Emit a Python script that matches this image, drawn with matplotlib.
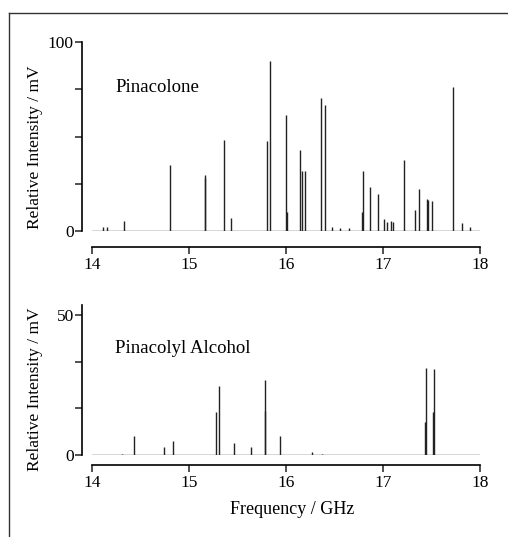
import matplotlib.pyplot as plt
from matplotlib.lines import Line2D

# данные: частота (GHz) и интенсивность (mV)
pinacolone_freq = [14.11, 14.15, 14.33, 14.80, 15.16, 15.17, 15.36, 15.43, 15.80, 15.835,
                   16.005, 16.01, 16.14, 16.16, 16.20, 16.365, 16.40, 16.47, 16.56, 16.65,
                   16.78, 16.79, 16.866, 16.95, 17.01, 17.04, 17.08, 17.10, 17.216,
                   17.33, 17.375, 17.45, 17.465, 17.505, 17.725, 17.81, 17.90]
pinacolone_int = [2, 2, 5.5, 35, 28, 29.7, 48, 7, 47.6, 89.8,
                  61.6, 10, 42.8, 31.5, 31.5, 70.4, 66.5, 2, 1.5, 1.5,
                  10, 31.9, 23.5, 19.7, 6.5, 5, 5.5, 5, 37.8,
                  11.3, 22.2, 16.8, 16.2, 16, 76, 4, 2]

alcohol_freq = [14.31, 14.43, 14.74, 14.84, 15.28, 15.305, 15.46, 15.635, 15.78, 15.787,
                15.94, 16.27, 16.37, 17.435, 17.44, 17.52, 17.525]
alcohol_int = [0.5, 6.6, 2.7, 5.1, 15.5, 24.6, 4.3, 2.7, 15.6, 26.6,
               6.8, 1.2, 0.4, 11.6, 31.1, 15.4, 30.5]

freq_range = [14, 18]
x_ticks = [14, 15, 16, 17, 18]

plt.rcParams['font.family'] = ['Liberation Serif', 'DejaVu Serif']
plt.rcParams['font.size'] = 12

fig = plt.figure(figsize=(5.08, 5.37), dpi=100)

# рамка слева и сверху
fig.add_artist(Line2D([9/508, 9/508], [0, 1 - 13/537], color='#333333', lw=1.0))
fig.add_artist(Line2D([9/508, 1], [1 - 13/537, 1 - 13/537], color='#333333', lw=1.0))


def style_axes(ax, ymax, yticks, ylabels, xoff):
    ax.set_xlim(freq_range)
    ax.set_ylim(0, ymax)
    for s in ['top', 'right']:
        ax.spines[s].set_visible(False)
    ax.spines['left'].set_position(('outward', 7))
    ax.spines['bottom'].set_position(('outward', xoff))
    ax.spines['left'].set_linewidth(1.2)
    ax.spines['bottom'].set_linewidth(1.2)
    ax.set_xticks(x_ticks)
    ax.set_yticks(yticks)
    ax.set_yticklabels(ylabels)
    ax.tick_params(axis='both', direction='out', length=5, width=1.1, color='#222222',
                   labelsize=12.5)
    ax.tick_params(axis='y', pad=1)
    ax.tick_params(axis='x', pad=2)
    ax.patch.set_alpha(0)


# верхний график
ax1 = fig.add_axes([92/508, 1 - 231/537, 388/508, 189/537])
ax1.vlines(pinacolone_freq, 0, pinacolone_int, color='#222222', lw=1.0)
ax1.plot(freq_range, [0, 0], color='#333333', lw=1.0)
style_axes(ax1, 100, [0, 25, 50, 75, 100], ['0', '', '', '', '100'], 11.5)
ax1.spines['left'].set_bounds(0, 100)
ax1.text(0.06, 0.76, 'Pinacolone', transform=ax1.transAxes, ha='left', va='center',
         fontsize=13.5)

# нижний график
ax2 = fig.add_axes([92/508, 1 - 455/537, 388/508, 150/537])
ax2.vlines(alcohol_freq, 0, alcohol_int, color='#222222', lw=1.0)
ax2.plot(freq_range, [0, 0], color='#333333', lw=1.0)
style_axes(ax2, 53.5, [0, 50/3, 100/3, 50], ['0', '', '', '50'], 7.2)
ax2.text(0.06, 0.713, 'Pinacolyl Alcohol', transform=ax2.transAxes, ha='left', va='center',
         fontsize=13.5)

# подписи осей
fig.text(35/508, 1 - 147/537, 'Relative Intensity / mV', rotation=90, ha='center', va='center',
         fontsize=12.5)
fig.text(35/508, 1 - 389/537, 'Relative Intensity / mV', rotation=90, ha='center', va='center',
         fontsize=12.5)
fig.text(292/508, 1 - 509/537, 'Frequency / GHz', ha='center', va='center', fontsize=13)

fig.savefig('out.png', dpi=100)
